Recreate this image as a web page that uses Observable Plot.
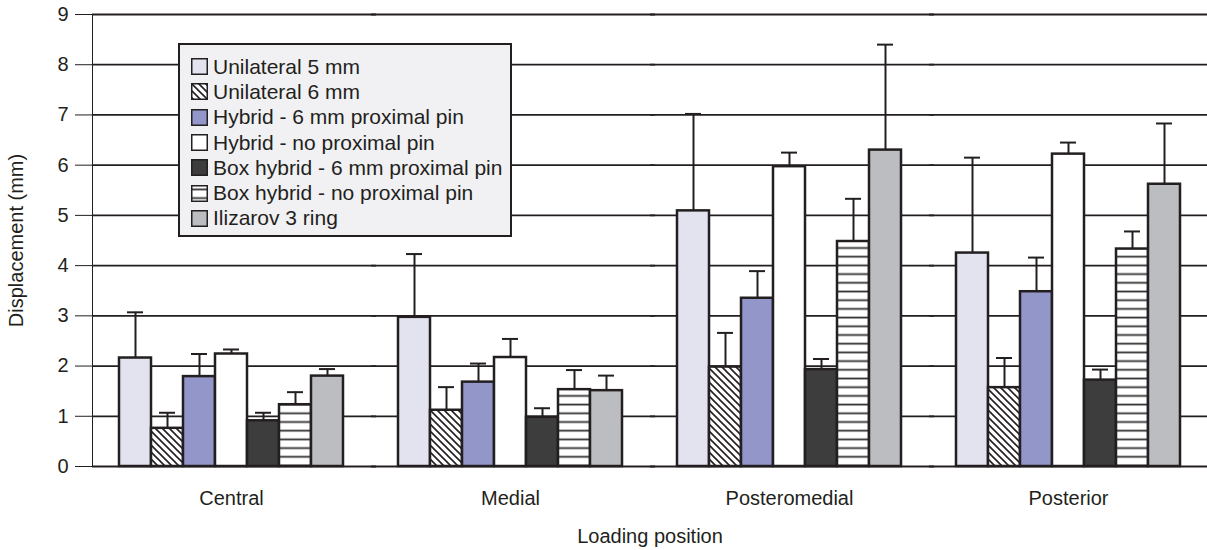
<!DOCTYPE html>
<html>
<head>
<meta charset="utf-8">
<script src="https://cdn.jsdelivr.net/npm/d3@7"></script>
<script src="https://cdn.jsdelivr.net/npm/@observablehq/plot@0.6"></script>
<style>
  html, body { margin: 0; padding: 0; background: #fff; }
  #wrap { position: relative; width: 1207px; height: 550px; font-family: "Liberation Sans", Arial, Helvetica, sans-serif; color: #231f20; }
  #legend { position: absolute; left: 178px; top: 43px; width: 334px; height: 194px; box-sizing: border-box;
            border: 2px solid #231f20; background: #f1f1f3; padding: 9px 0 0 11px; }
  .item { display: flex; align-items: center; height: 25.3px; font-size: 21px; white-space: nowrap; }
  .item svg { margin-right: 5px; flex: none; }
</style>
</head>
<body>
<svg width="0" height="0" style="position:absolute">
  <defs>
    <pattern id="diag" patternUnits="userSpaceOnUse" width="7" height="7">
      <rect width="7" height="7" fill="#fff"/>
      <path d="M-1,-1 L8,8 M-1,6 L1,8 M6,-1 L8,1" stroke="#231f20" stroke-width="1.6"/>
    </pattern>
    <pattern id="horiz" patternUnits="userSpaceOnUse" width="8.7" height="8.7">
      <rect width="8.7" height="8.7" fill="#fff"/>
      <rect y="3.5" width="8.7" height="1.8" fill="#333"/>
    </pattern>
  </defs>
</svg>
<div id="wrap">
  <div id="chart"></div>
  <div id="legend"></div>
</div>
<script>
// ---- data ----
const groups = ["Central", "Medial", "Posteromedial", "Posterior"];
const seriesNames = [
  "Unilateral 5 mm",
  "Unilateral 6 mm",
  "Hybrid - 6 mm proximal pin",
  "Hybrid - no proximal pin",
  "Box hybrid - 6 mm proximal pin",
  "Box hybrid - no proximal pin",
  "Ilizarov 3 ring"
];
const seriesFills = ["#e3e3f0", "url(#diag)", "#9296c9", "#ffffff", "#3d3d3d", "url(#horiz)", "#bcbdc0"];

// means per series, in group order (Central, Medial, Posteromedial, Posterior)
const unilateral5Mean = [2.16, 2.97, 5.09, 4.25];
const unilateral6Mean = [0.76, 1.12, 1.98, 1.57];
const hybrid6Mean     = [1.79, 1.68, 3.35, 3.48];
const hybridNoMean    = [2.24, 2.17, 5.97, 6.22];
const box6Mean        = [0.91, 0.98, 1.93, 1.72];
const boxNoMean       = [1.23, 1.53, 4.48, 4.33];
const ilizarovMean    = [1.80, 1.51, 6.30, 5.62];

// upper end of error bar
const unilateral5Err = [3.07, 4.23, 7.02, 6.15];
const unilateral6Err = [1.07, 1.58, 2.66, 2.16];
const hybrid6Err     = [2.24, 2.05, 3.89, 4.16];
const hybridNoErr    = [2.33, 2.54, 6.25, 6.45];
const box6Err        = [1.07, 1.16, 2.14, 1.93];
const boxNoErr       = [1.48, 1.92, 5.33, 4.68];
const ilizarovErr    = [1.94, 1.81, 8.40, 6.83];

const yTicks = [0, 1, 2, 3, 4, 5, 6, 7, 8, 9];

// ---- table ----
const meansBySeries = [unilateral5Mean, unilateral6Mean, hybrid6Mean, hybridNoMean, box6Mean, boxNoMean, ilizarovMean];
const errsBySeries  = [unilateral5Err, unilateral6Err, hybrid6Err, hybridNoErr, box6Err, boxNoErr, ilizarovErr];
const data = [];
groups.forEach((g, gi) => {
  seriesNames.forEach((s, si) => {
    data.push({group: g, series: s, value: meansBySeries[si][gi], err: errsBySeries[si][gi]});
  });
});

const ink = "#231f20";

const chart = Plot.plot({
  width: 1207,
  height: 550,
  marginLeft: 92,
  marginRight: 0,
  marginTop: 14,
  marginBottom: 84,
  style: {fontFamily: '"Liberation Sans", Arial, Helvetica, sans-serif', fontSize: "20px", color: ink, background: "#fff"},
  fx: {domain: groups, paddingInner: 0.004, paddingOuter: 0, axis: "bottom", tickSize: 0, tickPadding: 24,
       label: "Loading position", labelAnchor: "center", labelOffset: 76},
  x: {domain: seriesNames, axis: null, paddingInner: 0, paddingOuter: 0.72},
  y: {domain: [0, 9], ticks: yTicks, tickSize: 17, tickPadding: 7, line: true,
      label: "Displacement (mm)", labelAnchor: "center", labelOffset: 84, labelArrow: "none"},
  color: {domain: seriesNames, range: seriesFills},
  marks: [
    Plot.ruleY(yTicks, {stroke: ink, strokeWidth: 1.8, insetRight: -6}),
    Plot.barY(data, {fx: "group", x: "series", y: "value", fill: "series", stroke: ink, strokeWidth: 2.5}),
    Plot.ruleX(data, {fx: "group", x: "series", y1: "value", y2: "err", stroke: ink, strokeWidth: 2}),
    Plot.tickY(data, {fx: "group", x: "series", y: "err", stroke: ink, strokeWidth: 2, inset: 8})
  ]
});
document.getElementById("chart").appendChild(chart);

// ---- legend ----
const legend = d3.select("#legend");
seriesNames.forEach((s, i) => {
  const item = legend.append("div").attr("class", "item");
  const sw = item.append("svg").attr("width", 17).attr("height", 17);
  sw.append("rect").attr("x", 0.75).attr("y", 0.75).attr("width", 15.5).attr("height", 15.5)
    .attr("fill", seriesFills[i]).attr("stroke", ink).attr("stroke-width", 1.5);
  item.append("span").text(s);
});
</script>
</body>
</html>
